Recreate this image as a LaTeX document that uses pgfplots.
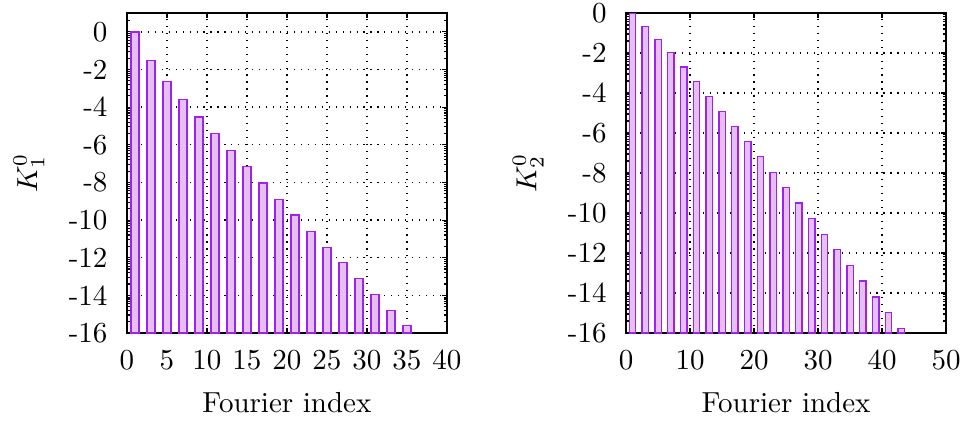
\documentclass[border=0pt]{standalone}
\usepackage{pgfplots}
\usepackage{pgfplotstable}
\pgfplotsset{compat=1.18}
\definecolor{barfill}{RGB}{228,192,245}
\definecolor{baredge}{RGB}{160,32,240}

\pgfplotstableread{
x y
1 0
3 -1.54
5 -2.62
7 -3.60
9 -4.52
11 -5.40
13 -6.31
15 -7.16
17 -8.03
19 -8.90
21 -9.73
23 -10.60
25 -11.44
27 -12.27
29 -13.12
31 -13.97
33 -14.80
35 -15.60
}\dataA

\pgfplotstableread{
x y
1 0
3 -0.67
5 -1.32
7 -1.99
9 -2.70
11 -3.41
13 -4.16
15 -4.91
17 -5.66
19 -6.41
21 -7.16
23 -7.96
25 -8.72
27 -9.50
29 -10.29
31 -11.06
33 -11.84
35 -12.63
37 -13.40
39 -14.20
41 -14.97
43 -15.77
}\dataB

\def\minorlist{-1}
\foreach \m in {0,2,...,14}{\foreach \b in {0.602,0.954,1.204,1.398,1.556,1.690,1.806,1.908}{\pgfmathparse{\m+\b}\xdef\minorlist{\minorlist,\pgfmathresult}}}
\xdef\minorlist{\minorlist,16.602,16.954}

\pgfplotsset{myax/.style={
  scale only axis, width=110.4pt, height=110.4pt,
  anchor=south west,
  enlargelimits=false,
  ybar, bar width=1,
  grid=major, major grid style={black, dotted, line width=0.45pt},
  axis line style={black, line width=0.55pt},
  tick style={black, line width=0.4pt},
  major tick length=1.7pt, minor tick length=1pt,
  tick align=inside, xtick pos=both, ytick pos=both,
  ytick={0,2,...,16},
  yticklabels={-16,-14,-12,-10,-8,-6,-4,-2,0},
  minor ytick=\minorlist,
  yticklabel style={xshift=-3.2pt},
  xticklabel style={yshift=-2.5pt},
  xlabel={Fourier index},
  xlabel style={at={(axis description cs:0.5,-0.219)}, anchor=center},
  ylabel style={at={(axis description cs:-0.306,0.5)}, anchor=center},
}}

\begin{document}
\begin{tikzpicture}
\useasboundingbox (-43.8pt,-31.05pt) rectangle (288.1pt,114.9pt);
\begin{axis}[myax, at={(0pt,0pt)},
  xmin=0, xmax=40, ymin=0, ymax=17,
  xtick={0,5,...,40},
  ylabel={$K_1^0$}]
\addplot[ybar, draw=baredge, fill=barfill, line width=0.45pt]
  table[x=x, y expr=\thisrow{y}+16]{\dataA};
\end{axis}
\begin{axis}[myax, at={(172.2pt,0pt)},
  xmin=0, xmax=50, ymin=0, ymax=16,
  xtick={0,10,...,50},
  ylabel={$K_2^0$}]
\addplot[ybar, draw=baredge, fill=barfill, line width=0.45pt]
  table[x=x, y expr=\thisrow{y}+16]{\dataB};
\end{axis}
\end{tikzpicture}
\end{document}
